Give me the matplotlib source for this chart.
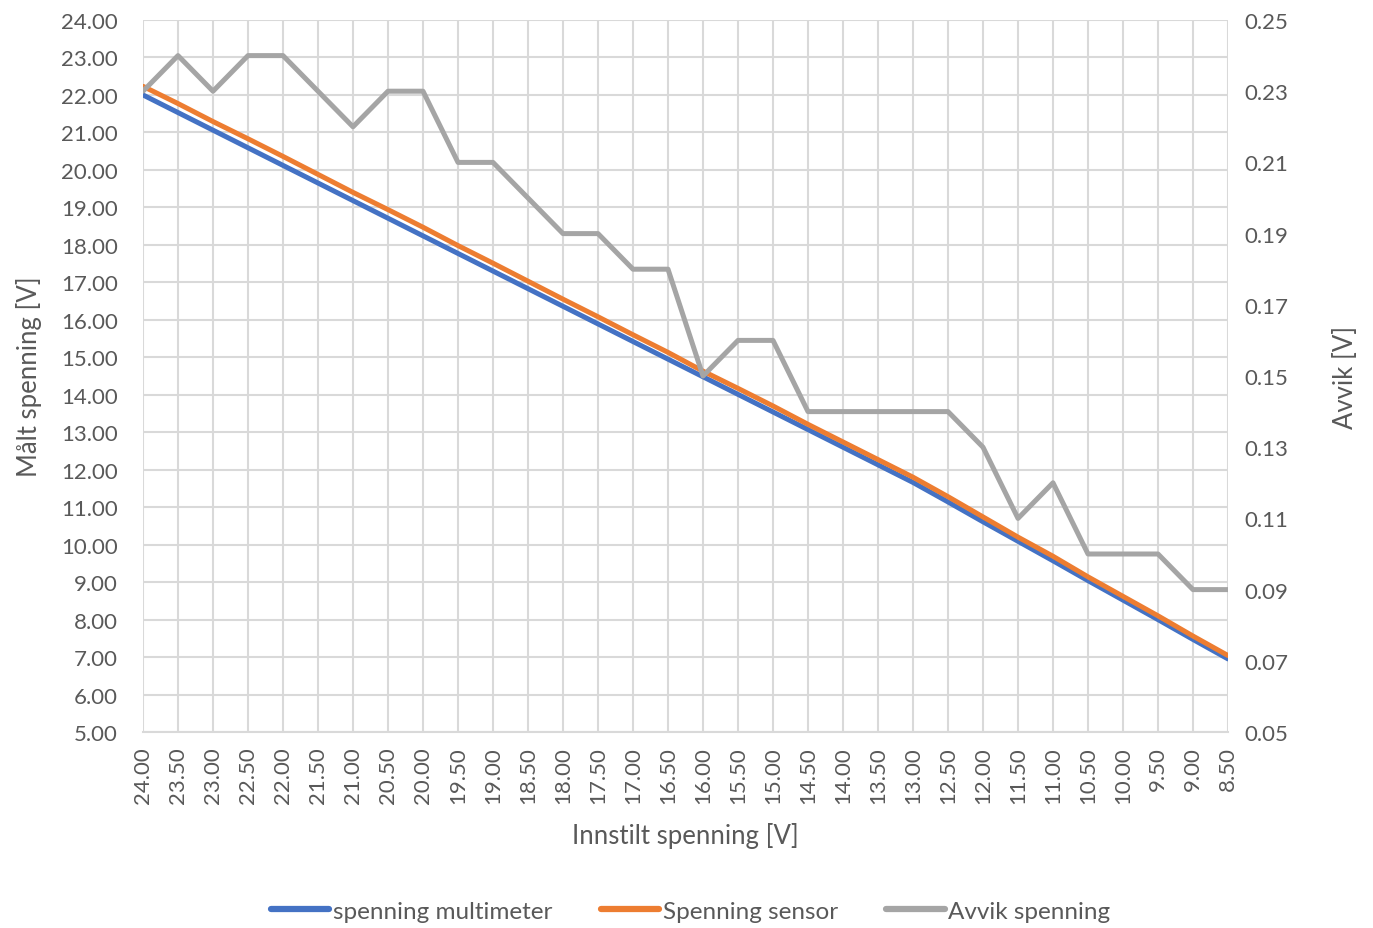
import numpy as np
import matplotlib
matplotlib.use("Agg")
import matplotlib.pyplot as plt
from matplotlib.ticker import FormatStrFormatter

plt.rcParams['font.family'] = ['Lato', 'DejaVu Sans']

# ---------------------------------------------------------------
# data
innstilt = ['24.00', '23.50', '23.00', '22.50', '22.00', '21.50', '21.00', '20.50',
            '20.00', '19.50', '19.00', '18.50', '18.00', '17.50', '17.00', '16.50',
            '16.00', '15.50', '15.00', '14.50', '14.00', '13.50', '13.00', '12.50',
            '12.00', '11.50', '11.00', '10.50', '10.00', '9.50', '9.00', '8.50']
multimeter = [22.00, 21.53, 21.06, 20.59, 20.12, 19.65, 19.18, 18.71,
              18.24, 17.77, 17.30, 16.83, 16.36, 15.89, 15.42, 14.95,
              14.48, 14.01, 13.54, 13.07, 12.60, 12.13, 11.66, 11.14,
              10.61, 10.09, 9.57, 9.04, 8.52, 8.00, 7.47, 6.95]
sensor = [22.23, 21.77, 21.29, 20.83, 20.36, 19.88, 19.40, 18.94,
          18.47, 17.98, 17.51, 17.03, 16.55, 16.08, 15.60, 15.13,
          14.63, 14.17, 13.70, 13.21, 12.74, 12.27, 11.80, 11.28,
          10.74, 10.20, 9.69, 9.14, 8.62, 8.10, 7.56, 7.04]
avvik = [0.23, 0.24, 0.23, 0.24, 0.24, 0.23, 0.22, 0.23,
         0.23, 0.21, 0.21, 0.20, 0.19, 0.19, 0.18, 0.18,
         0.15, 0.16, 0.16, 0.14, 0.14, 0.14, 0.14, 0.14,
         0.13, 0.11, 0.12, 0.10, 0.10, 0.10, 0.09, 0.09]
# ---------------------------------------------------------------
txt = '#595959'
grid = '#d9d9d9'
lw = 3.6
tsize = 16
lsize = 18.5

fig = plt.figure(figsize=(13.73, 9.29), dpi=100)
ax = fig.add_axes([143/1373, 1 - 733/929, 1085/1373, 712/929])
x = np.arange(len(innstilt))

l1, = ax.plot(x, multimeter, color='#4472C4', lw=lw, solid_capstyle='round',
              label='spenning multimeter', zorder=3)
l2, = ax.plot(x, sensor, color='#ED7D31', lw=lw, solid_capstyle='round',
              label='Spenning sensor', zorder=3)
ax.set_xlim(0, len(innstilt) - 1)
ax.set_ylim(5, 24)
ax.set_yticks(np.arange(5, 25, 1))
ax.yaxis.set_major_formatter(FormatStrFormatter('%.2f'))
ax.set_xticks(x)
ax.set_xticklabels(innstilt, rotation=90)
ax.grid(True, color=grid, lw=1.5)
ax.set_axisbelow(True)
for s in ['top', 'right', 'left']:
    ax.spines[s].set_visible(False)
ax.spines['bottom'].set_color(grid)
ax.spines['bottom'].set_linewidth(1.5)
ax.tick_params(axis='both', length=0, colors=txt, labelsize=tsize)
ax.tick_params(axis='x', pad=10)
ax.tick_params(axis='y', pad=18)
ax.set_xlabel('Innstilt spenning [V]', color=txt, fontsize=lsize, labelpad=14)
ax.set_ylabel('Målt spenning [V]', color=txt, fontsize=lsize, labelpad=14)

ax2 = ax.twinx()
l3, = ax2.plot(x, avvik, color='#A5A5A5', lw=lw, solid_capstyle='round',
               label='Avvik spenning', zorder=4)
ax2.set_ylim(0.05, 0.25)
ax2.set_yticks(np.arange(0.05, 0.2501, 0.02))
ax2.yaxis.set_major_formatter(FormatStrFormatter('%.2f'))
for s in ['top', 'right', 'left', 'bottom']:
    ax2.spines[s].set_visible(False)
ax2.tick_params(axis='y', length=0, colors=txt, labelsize=tsize, pad=12)
ax2.set_ylabel('Avvik [V]', color=txt, fontsize=lsize, labelpad=32)

leg = fig.legend(handles=[l1, l2, l3], loc='center', bbox_to_anchor=(0.503, 1 - 912/929),
                 ncol=3, frameon=False, fontsize=17.5, handlelength=2.4,
                 handletextpad=0.15, columnspacing=2.0, labelcolor=txt)
for h in leg.legend_handles:
    h.set_linewidth(4.5)

fig.savefig('out.png', dpi=100)
